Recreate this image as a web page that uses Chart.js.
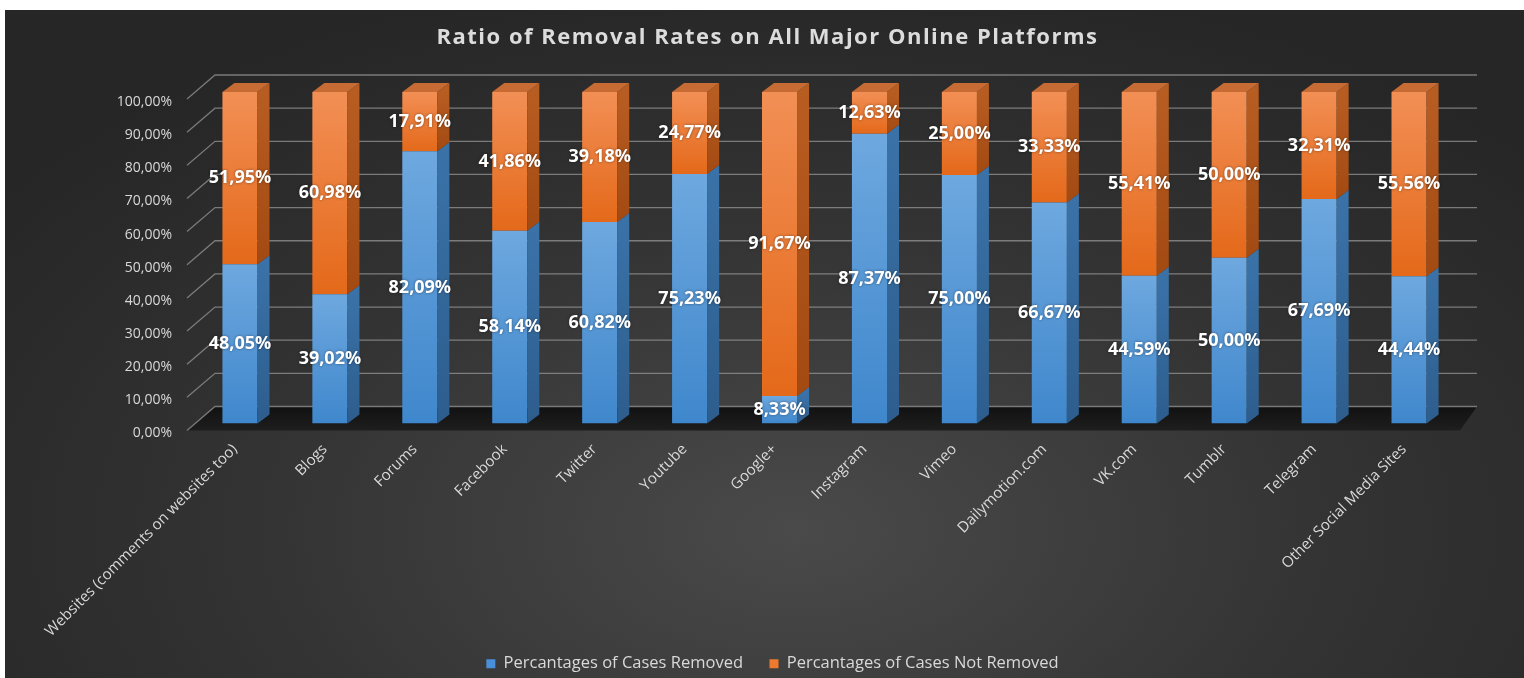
<!DOCTYPE html>
<html>
<head>
<meta charset="utf-8">
<script src="https://cdn.jsdelivr.net/npm/chart.js@4/dist/chart.umd.min.js"></script>
<style>
  html, body { margin: 0; padding: 0; background: #fff; }
  #wrap {
    position: absolute; left: 5px; top: 10px; width: 1519px; height: 668px;
    background: radial-gradient(ellipse 65% 85% at 52% 78%, #4a4a4a 0%, #333 55%, #262626 100%);
  }
</style>
</head>
<body>
<div id="wrap"><canvas id="chart" width="1519" height="668"></canvas></div>
<script>
const platforms = [
  'Websites (comments on websites too)', 'Blogs', 'Forums', 'Facebook', 'Twitter',
  'Youtube', 'Google+', 'Instagram', 'Vimeo', 'Dailymotion.com', 'VK.com',
  'Tumblr', 'Telegram', 'Other Social Media Sites'
];
const removed = [48.05, 39.02, 82.09, 58.14, 60.82, 75.23, 8.33, 87.37, 75.00, 66.67, 44.59, 50.00, 67.69, 44.44];
const notRemoved = [51.95, 60.98, 17.91, 41.86, 39.18, 24.77, 91.67, 12.63, 25.00, 33.33, 55.41, 50.00, 32.31, 55.56];
const yTicks = [0, 10, 20, 30, 40, 50, 60, 70, 80, 90, 100];
const title = 'Ratio of Removal Rates on All Major Online Platforms';

const DX = 12, DY = -9;   // depth of the bars
const BX = 20, BY = -17;  // offset of the back wall
const FX = -8, FY = 7;    // offset of the front edge

function pct(v) {
  return v.toFixed(2).replace('.', ',') + '%';
}

// front face gradient, light at the top of each segment
function faceGradient(c, top, bottom) {
  const chart = c.chart;
  const y = chart.scales.y;
  if (!chart.chartArea || !y) return bottom;
  const i = c.dataIndex;
  const start = c.datasetIndex === 0 ? 0 : removed[i];
  const end = start + (c.datasetIndex === 0 ? removed[i] : notRemoved[i]);
  const g = chart.ctx.createLinearGradient(0, y.getPixelForValue(end), 0, y.getPixelForValue(start));
  g.addColorStop(0, top);
  g.addColorStop(1, bottom);
  return g;
}

const wallPlugin = {
  id: 'wall',
  beforeDatasetsDraw(chart) {
    const { ctx, chartArea: a, scales: { y } } = chart;
    ctx.save();
    // floor
    const fl = ctx.createLinearGradient(0, a.bottom + BY, 0, a.bottom + FY);
    fl.addColorStop(0, '#111');
    fl.addColorStop(1, '#1e1e1e');
    ctx.fillStyle = fl;
    ctx.beginPath();
    ctx.moveTo(a.left + FX, a.bottom + FY);
    ctx.lineTo(a.left + BX, a.bottom + BY);
    ctx.lineTo(a.right + BX + 3, a.bottom + BY);
    ctx.lineTo(a.right + 6, a.bottom + FY);
    ctx.closePath();
    ctx.fill();
    // grid lines on the wall and the side
    ctx.strokeStyle = 'rgba(150,150,150,0.75)';
    ctx.lineWidth = 1.3;
    yTicks.forEach(v => {
      const py = y.getPixelForValue(v);
      ctx.beginPath();
      ctx.moveTo(a.left + FX, py + FY);
      ctx.lineTo(a.left + BX, py + BY);
      ctx.lineTo(a.right + BX + 3, py + BY);
      ctx.stroke();
    });
    ctx.restore();
  },
  afterDatasetsDraw(chart) {
    const ctx = chart.ctx;
    const sides = [['#3a72a8', '#2d5d8d'], ['#b85d22', '#a24a12']];
    ctx.save();
    chart.data.datasets.forEach((ds, di) => {
      chart.getDatasetMeta(di).data.forEach((el, i) => {
        const r = el.x + el.width / 2, l = el.x - el.width / 2;
        const g = ctx.createLinearGradient(0, el.y, 0, el.base);
        g.addColorStop(0, sides[di][0]);
        g.addColorStop(1, sides[di][1]);
        ctx.fillStyle = g;
        ctx.beginPath();
        ctx.moveTo(r, el.y);
        ctx.lineTo(r + DX, el.y + DY);
        ctx.lineTo(r + DX, el.base + DY);
        ctx.lineTo(r, el.base);
        ctx.closePath();
        ctx.fill();
        if (di === chart.data.datasets.length - 1) {
          ctx.fillStyle = '#c76b34';
          ctx.beginPath();
          ctx.moveTo(l, el.y);
          ctx.lineTo(l + DX, el.y + DY);
          ctx.lineTo(r + DX, el.y + DY);
          ctx.lineTo(r, el.y);
          ctx.closePath();
          ctx.fill();
        }
      });
    });
    // value labels
    ctx.font = 'bold 18px "Open Sans"';
    ctx.fillStyle = '#fff';
    ctx.textAlign = 'center';
    ctx.textBaseline = 'middle';
    ctx.shadowColor = 'rgba(0,0,0,0.45)';
    ctx.shadowBlur = 3;
    chart.data.datasets.forEach((ds, di) => {
      chart.getDatasetMeta(di).data.forEach((el, i) => {
        ctx.fillText(pct(ds.data[i]), el.x, (el.y + el.base) / 2);
      });
    });
    ctx.restore();
  },
  afterDraw(chart) {
    // title with letter spacing
    const ctx = chart.ctx;
    ctx.save();
    ctx.font = 'bold 22px "Open Sans"';
    ctx.letterSpacing = '1.5px';
    ctx.fillStyle = '#dcdcdc';
    ctx.textAlign = 'center';
    ctx.textBaseline = 'middle';
    ctx.fillText(title, chart.width / 2 + 3, 28);
    ctx.restore();
  }
};

new Chart(document.getElementById('chart'), {
  type: 'bar',
  data: {
    labels: platforms,
    datasets: [{
      label: 'Percantages of Cases Removed',
      data: removed,
      backgroundColor: c => faceGradient(c, '#6ea8df', '#3f87cc'),
      borderWidth: 0
    }, {
      label: 'Percantages of Cases Not Removed',
      data: notRemoved,
      backgroundColor: c => faceGradient(c, '#f28f55', '#e4691a'),
      borderWidth: 0
    }]
  },
  options: {
    responsive: false,
    animation: false,
    barPercentage: 0.78,
    categoryPercentage: 0.5,
    layout: { padding: { left: 86, right: 70, top: 82, bottom: -4 } },
    plugins: {
      title: { display: false },
      legend: {
        position: 'bottom',
        labels: {
          color: '#d9d9d9',
          font: { family: 'Open Sans', size: 16.5 },
          boxWidth: 9,
          boxHeight: 9,
          padding: 10,
          // an em space widens the gap between the two items
          generateLabels: chart => chart.data.datasets.map((ds, i) => ({
            text: ds.label + (i === 0 ? '\u2003' : ''),
            fillStyle: i === 0 ? '#4a90d9' : '#ee7a2e',
            strokeStyle: 'transparent',
            lineWidth: 0,
            fontColor: '#d9d9d9',
            datasetIndex: i
          }))
        }
      },
      tooltip: { enabled: false }
    },
    scales: {
      x: {
        stacked: true,
        grid: { display: false },
        border: { display: false },
        ticks: {
          color: '#d9d9d9',
          font: { family: 'Open Sans', size: 15 },
          minRotation: 45,
          maxRotation: 45,
          padding: 9,
          labelOffset: -5
        },
        afterFit: s => { s.height = 222; }
      },
      y: {
        stacked: true,
        min: 0,
        max: 100,
        afterBuildTicks: s => { s.ticks = yTicks.map(v => ({ value: v })); },
        grid: { display: false, drawTicks: false },
        border: { display: false },
        ticks: {
          color: '#d9d9d9',
          font: { family: 'Open Sans', size: 14 },
          padding: 23,
          labelOffset: 10,
          callback: v => pct(v)
        },
        afterFit: s => { s.width = 104; }
      }
    }
  },
  plugins: [wallPlugin]
});
</script>
</body>
</html>
